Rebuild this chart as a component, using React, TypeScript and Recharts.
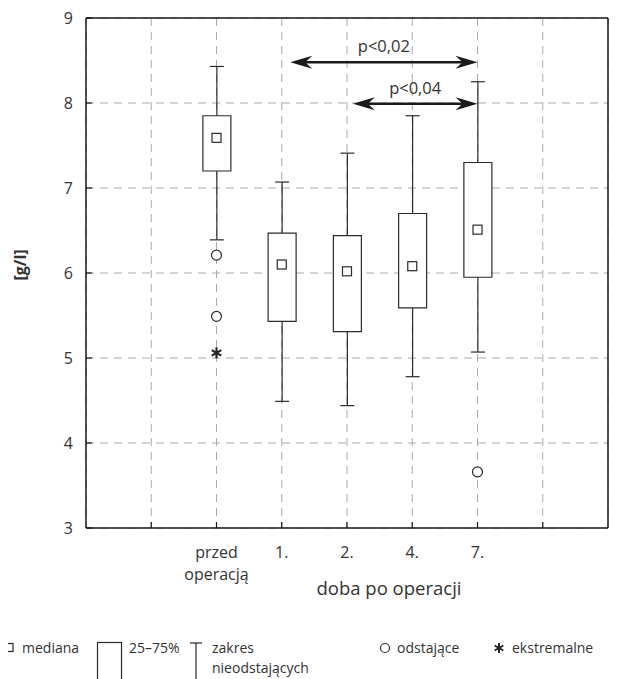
import React from 'react';
import { ComposedChart, Bar, Scatter, XAxis, YAxis, CartesianGrid, ReferenceLine } from 'recharts';

// ---- data ----
const groupPositions = [2, 3, 4, 5, 6];
const groupLabels = [['przed', 'operacją'], ['1.'], ['2.'], ['4.'], ['7.']];
const whiskerLow = [6.39, 4.49, 4.44, 4.78, 5.07];
const quartile1 = [7.2, 5.43, 5.31, 5.59, 5.95];
const medians = [7.59, 6.1, 6.02, 6.08, 6.51];
const quartile3 = [7.85, 6.47, 6.44, 6.7, 7.3];
const whiskerHigh = [8.43, 7.07, 7.41, 7.85, 8.25];
const outlierX = [2, 2, 6];
const outlierY = [6.21, 5.49, 3.66];
const extremeX = [2];
const extremeY = [5.06];
const compFrom = [3.13, 4.09];
const compTo = [6, 6];
const compY = [8.48, 7.99];
const compLabels = ['p<0,02', 'p<0,04'];
const xTicks = [1, 2, 3, 4, 5, 6, 7];
const yTicks = [3, 4, 5, 6, 7, 8, 9];
const xAxisTitle = 'doba po operacji';
const yAxisTitle = '[g/l]';

// ---- tables built from the arrays ----
const boxRows = groupPositions.map((x, i) => ({
  x,
  base: whiskerLow[i],
  lowW: quartile1[i] - whiskerLow[i],
  box: quartile3[i] - quartile1[i],
  highW: whiskerHigh[i] - quartile3[i],
}));
const medianPts = groupPositions.map((x, i) => ({ x, y: medians[i] }));
const outlierPts = outlierX.map((x, i) => ({ x, y: outlierY[i] }));
const extremePts = extremeX.map((x, i) => ({ x, y: extremeY[i] }));

const FONT = '"Open Sans", sans-serif';
const TEXT = '#333';
const INK = '#2b2b2b';
const CAP = 7;

const LowWhisker = (p: any) => {
  const cx = p.x + p.width / 2;
  const top = Math.min(p.y, p.y + p.height);
  const bottom = Math.max(p.y, p.y + p.height);
  return (
    <g>
      <line x1={cx} x2={cx} y1={top} y2={bottom} stroke={INK} strokeWidth={1.2} />
      <line x1={cx - CAP} x2={cx + CAP} y1={bottom} y2={bottom} stroke={INK} strokeWidth={1.2} />
    </g>
  );
};
const HighWhisker = (p: any) => {
  const cx = p.x + p.width / 2;
  const top = Math.min(p.y, p.y + p.height);
  const bottom = Math.max(p.y, p.y + p.height);
  return (
    <g>
      <line x1={cx} x2={cx} y1={top} y2={bottom} stroke={INK} strokeWidth={1.2} />
      <line x1={cx - CAP} x2={cx + CAP} y1={top} y2={top} stroke={INK} strokeWidth={1.2} />
    </g>
  );
};
const Hidden = () => <g />;

const MedianShape = (p: any) => (
  <rect x={p.cx - 4.5} y={p.cy - 4.5} width={9} height={9} fill="#fff" stroke={INK} strokeWidth={1.2} />
);
const OutlierShape = (p: any) => (
  <circle cx={p.cx} cy={p.cy} r={5} fill="#fff" stroke={INK} strokeWidth={1.2} />
);
const Asterisk = ({ cx, cy, r = 5.5, w = 2.2 }: any) => {
  const a = Math.PI / 3;
  return (
    <g stroke="#222" strokeWidth={w}>
      {[0, 1, 2].map((k) => {
        const ang = Math.PI / 2 + k * a;
        const dx = Math.cos(ang) * r;
        const dy = Math.sin(ang) * r;
        return <line key={k} x1={cx - dx} y1={cy - dy} x2={cx + dx} y2={cy + dy} />;
      })}
    </g>
  );
};
const ExtremeShape = (p: any) => <Asterisk cx={p.cx} cy={p.cy} />;

const arrowHead = (tx: number, ty: number, dir: number) => {
  const L = 22;
  const H = 6.5;
  const N = 15;
  return `M${tx},${ty} L${tx - dir * L},${ty - H} L${tx - dir * N},${ty} L${tx - dir * L},${ty + H} Z`;
};

const makeArrow = (label: string) => (p: any) => {
  const x1 = Math.min(p.x1, p.x2);
  const x2 = Math.max(p.x1, p.x2);
  const y = p.y1;
  return (
    <g>
      <line x1={x1 + 14} x2={x2 - 14} y1={y} y2={y} stroke="#1a1a1a" strokeWidth={2.5} />
      <path d={arrowHead(x2, y, 1)} fill="#1a1a1a" />
      <path d={arrowHead(x1, y, -1)} fill="#1a1a1a" />
      <text x={(x1 + x2) / 2} y={y - 10} textAnchor="middle" fontSize={16.5} fill={TEXT} fontFamily={FONT}>
        {label}
      </text>
    </g>
  );
};

const XTick = (p: any) => {
  const i = groupPositions.indexOf(p.payload.value);
  if (i < 0) return <g />;
  return (
    <text textAnchor="middle" fontSize={16} fill={TEXT} fontFamily={FONT}>
      {groupLabels[i].map((l, k) => (
        <tspan key={k} x={p.x} y={p.y + 30 + k * 22}>
          {l}
        </tspan>
      ))}
    </text>
  );
};

const XTitle = (p: any) => {
  const vb = p.viewBox || { x: 0, y: 0, width: 0, height: 0 };
  return (
    <text x={vb.x + vb.width / 2 + 42} y={vb.y + 67} textAnchor="middle" fontSize={18.5} fill={TEXT} fontFamily={FONT}>
      {xAxisTitle}
    </text>
  );
};

const YTitle = (p: any) => {
  const vb = p.viewBox || { x: 0, y: 0, width: 0, height: 0 };
  const cx = vb.x + 12;
  const cy = vb.y + vb.height / 2 - 8;
  return (
    <text
      transform={`translate(${cx},${cy}) rotate(-90)`}
      textAnchor="middle"
      dominantBaseline="central"
      fontSize={16}
      fontWeight="bold"
      fill={TEXT}
      fontFamily={FONT}
    >
      {yAxisTitle}
    </text>
  );
};

const Legend = () => (
  <svg width={618} height={49} style={{ position: 'absolute', left: -8, top: 622, overflow: 'visible' }}>
    <g fontFamily={FONT} fontSize={14} fill={TEXT}>
      <rect x={5} y={13.5} width={8} height={8} fill="#fff" stroke={INK} strokeWidth={1.2} />
      <text x={22} y={23}>mediana</text>
      <rect x={97.5} y={12.5} width={24} height={60} fill="#fff" stroke={INK} strokeWidth={1.2} />
      <text x={129} y={23}>25–75%</text>
      <line x1={190} x2={202} y1={13} y2={13} stroke={INK} strokeWidth={1.2} />
      <line x1={196} x2={196} y1={13} y2={60} stroke={INK} strokeWidth={1.2} />
      <text x={212} y={23}>zakres</text>
      <text x={212} y={43}>nieodstających</text>
      <circle cx={385} cy={18} r={4.5} fill="#fff" stroke={INK} strokeWidth={1.2} />
      <text x={397} y={23}>odstające</text>
      <Asterisk cx={499} cy={18} r={5} w={2} />
      <text x={512} y={23}>ekstremalne</text>
    </g>
  </svg>
);

export default function App() {
  return (
    <div style={{ position: 'relative', width: 610, height: 671, fontFamily: FONT }}>
      <ComposedChart
        width={610}
        height={610}
        data={boxRows}
        margin={{ top: 9, right: 9, bottom: 0, left: 0 }}
        style={{ fontFamily: FONT }}
      >
        <CartesianGrid stroke="#aaa" strokeDasharray="8 6" strokeWidth={1} />
        <XAxis
          dataKey="x"
          type="number"
          domain={[0, 8]}
          ticks={xTicks}
          allowDataOverflow
          height={90}
          tickSize={-6}
          tickMargin={6}
          tick={<XTick />}
          interval={0}
          axisLine={{ stroke: '#1a1a1a', strokeWidth: 1.5 }}
          tickLine={{ stroke: '#1a1a1a', strokeWidth: 1.2 }}
          label={{ content: <XTitle /> } as any}
        />
        <XAxis
          xAxisId="top"
          orientation="top"
          type="number"
          domain={[0, 8]}
          ticks={xTicks}
          allowDataOverflow
          height={1}
          tickSize={-6}
          tick={false}
          axisLine={{ stroke: '#1a1a1a', strokeWidth: 1.5 }}
          tickLine={{ stroke: '#1a1a1a', strokeWidth: 1.2 }}
        />
        <YAxis
          dataKey="y"
          type="number"
          domain={[3, 9]}
          ticks={yTicks}
          allowDataOverflow
          width={78}
          tickSize={-6}
          tickMargin={19}
          interval={0}
          tick={{ fill: TEXT, fontSize: 16, fontFamily: FONT }}
          axisLine={{ stroke: '#1a1a1a', strokeWidth: 1.5 }}
          tickLine={{ stroke: '#1a1a1a', strokeWidth: 1.2 }}
          label={{ content: <YTitle /> } as any}
        />
        <YAxis
          yAxisId="right"
          orientation="right"
          type="number"
          domain={[3, 9]}
          ticks={yTicks}
          allowDataOverflow
          width={1}
          tickSize={-6}
          tick={false}
          axisLine={{ stroke: '#1a1a1a', strokeWidth: 1.5 }}
          tickLine={{ stroke: '#1a1a1a', strokeWidth: 1.2 }}
        />
        <Bar dataKey="base" stackId="b" barSize={28} shape={Hidden} isAnimationActive={false} />
        <Bar dataKey="lowW" stackId="b" barSize={28} shape={LowWhisker} isAnimationActive={false} />
        <Bar dataKey="box" stackId="b" barSize={28} fill="#fff" stroke={INK} strokeWidth={1.2} isAnimationActive={false} />
        <Bar dataKey="highW" stackId="b" barSize={28} shape={HighWhisker} isAnimationActive={false} />
        <Scatter data={medianPts} dataKey="y" shape={MedianShape} isAnimationActive={false} />
        <Scatter data={outlierPts} dataKey="y" shape={OutlierShape} isAnimationActive={false} />
        <Scatter data={extremePts} dataKey="y" shape={ExtremeShape} isAnimationActive={false} />
        {compLabels.map((lab, i) => (
          <ReferenceLine
            key={lab}
            segment={[
              { x: compFrom[i], y: compY[i] },
              { x: compTo[i], y: compY[i] },
            ]}
            shape={makeArrow(lab)}
            ifOverflow="visible"
          />
        ))}
      </ComposedChart>
      <Legend />
    </div>
  );
}
